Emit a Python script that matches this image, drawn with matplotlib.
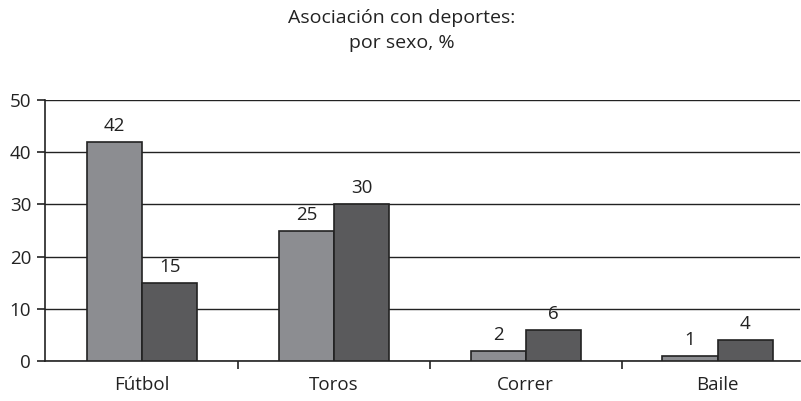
import matplotlib
matplotlib.use("Agg")
import matplotlib.pyplot as plt
import numpy as np

categories = ["Fútbol", "Toros", "Correr", "Baile"]
serie_a = [42, 25, 2, 1]
serie_b = [15, 30, 6, 4]
yticks = [0, 10, 20, 30, 40, 50]

plt.rcParams['font.family'] = ['Open Sans', 'DejaVu Sans']

fig = plt.figure(figsize=(8.01, 4.01), dpi=100)
ax = fig.add_axes([45/801, 40/401, 755/801, 261/401])

x = np.arange(len(categories))
w = 0.287
ba = ax.bar(x - w/2, serie_a, w, color="#8c8d91", edgecolor="#222222", linewidth=1.2, zorder=3)
bb = ax.bar(x + w/2, serie_b, w, color="#5a5a5c", edgecolor="#222222", linewidth=1.2, zorder=3)

for bars, vals in ((ba, serie_a), (bb, serie_b)):
    for r, v in zip(bars, vals):
        ax.annotate(str(v), (r.get_x() + r.get_width()/2, v), xytext=(0, 5),
                    textcoords="offset points", ha="center", va="bottom", fontsize=13.5, color="#222222")

ax.set_xlim(-0.506, 3.43)
ax.set_ylim(0, 50)
ax.set_yticks(yticks)
ax.set_yticklabels([str(t) for t in yticks], fontsize=13.5, color="#222222")
ax.yaxis.grid(True, color="#222222", linewidth=1.0, zorder=0)
ax.set_axisbelow(True)

ax.set_xticks(x)
ax.set_xticklabels(categories, fontsize=13.5, color="#222222")
ax.tick_params(axis="x", length=0, pad=11)
ax.set_xticks([0.5, 1.5, 2.5], minor=True)
ax.tick_params(axis="x", which="minor", length=6, width=1.2, color="#222222", direction="out")
ax.tick_params(axis="y", length=6, width=1.2, color="#222222", direction="out", pad=4)

for s in ("top", "right"):
    ax.spines[s].set_visible(False)
for s in ("left", "bottom"):
    ax.spines[s].set_color("#222222")
    ax.spines[s].set_linewidth(1.2)

fig.text(0.502, 0.977, "Asociación con deportes:\npor sexo, %", ha="center", va="top",
         fontsize=14, color="#222222", linespacing=1.5)

fig.savefig("out.png", dpi=100)
